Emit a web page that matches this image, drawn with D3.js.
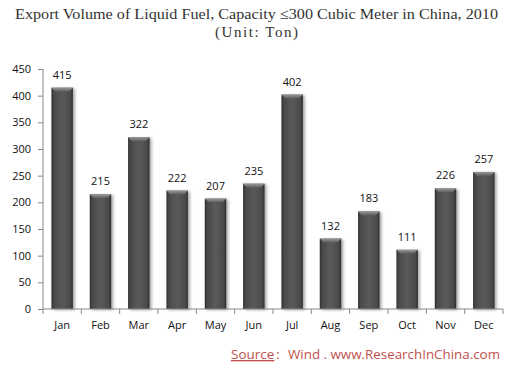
<!DOCTYPE html>
<html><head><meta charset="utf-8">
<script src="https://cdn.jsdelivr.net/npm/d3@7"></script>
<style>body{margin:0;background:#fff}svg{display:block}</style>
</head><body>
<script>
const months = ["Jan","Feb","Mar","Apr","May","Jun","Jul","Aug","Sep","Oct","Nov","Dec"];
const values = [415,215,322,222,207,235,402,132,183,111,226,257];
const yTicks = [0,50,100,150,200,250,300,350,400,450];
const titleLines = ["Export Volume of Liquid Fuel, Capacity \u2264300 Cubic Meter in China, 2010","(Unit: Ton)"];

const W=513,H=367;
const svg=d3.select("body").append("svg").attr("width",W).attr("height",H);
const x=d3.scaleBand().domain(months).range([43,503]).paddingInner(0.44).paddingOuter(0.22);
const y=d3.scaleLinear().domain([0,450]).range([309,69]);

const defs=svg.append("defs");
const g1=defs.append("linearGradient").attr("id","barg").attr("x1","0").attr("x2","1").attr("y1","0").attr("y2","0");
[["0%","#2e2e2e"],["12%","#4a4a4a"],["50%","#5a5a5a"],["88%","#4a4a4a"],["100%","#2e2e2e"]].forEach(s=>g1.append("stop").attr("offset",s[0]).attr("stop-color",s[1]));
const g2=defs.append("linearGradient").attr("id","capg").attr("x1","0").attr("x2","0").attr("y1","0").attr("y2","1");
[["0%","#9a9a9a"],["100%","#5a5a5a"]].forEach(s=>g2.append("stop").attr("offset",s[0]).attr("stop-color",s[1]));
const f=defs.append("filter").attr("id","sh").attr("x","-20%").attr("y","-10%").attr("width","150%").attr("height","130%");
f.append("feDropShadow").attr("dx",2).attr("dy",1).attr("stdDeviation",1.5).attr("flood-color","#000").attr("flood-opacity",0.35);

const tW=[483,83], tY=[19,37], tAdj=["spacingAndGlyphs","spacing"];
svg.append("g").attr("font-family","'Liberation Serif','DejaVu Serif',serif").attr("font-size",15).attr("fill","#333")
 .selectAll("text").data(titleLines).join("text")
 .attr("x",W/2).attr("y",(d,i)=>tY[i]).attr("text-anchor","middle")
 .attr("textLength",(d,i)=>tW[i]).attr("lengthAdjust",(d,i)=>tAdj[i]).text(d=>d);

// bars
const bars=svg.append("g");
bars.selectAll("rect.bar").data(values).join("rect").attr("class","bar")
 .attr("x",(d,i)=>x(months[i])).attr("y",d=>y(d)).attr("width",x.bandwidth()).attr("height",d=>y(0)-y(d))
 .attr("fill","url(#barg)").attr("filter","url(#sh)");
bars.selectAll("path.cap").data(values).join("path").attr("class","cap")
 .attr("d",(d,i)=>{const x0=x(months[i]),w=x.bandwidth(),t=y(d);return `M${x0},${t}L${x0+w},${t}L${x0+w-4},${t+4}L${x0+4},${t+4}Z`;})
 .attr("fill","url(#capg)");

// labels
svg.append("g").attr("font-family","'Open Sans','DejaVu Sans',sans-serif").attr("font-size",11).attr("fill","#111")
 .selectAll("text").data(values).join("text")
 .attr("x",(d,i)=>x(months[i])+x.bandwidth()/2).attr("y",d=>y(d)-9).attr("text-anchor","middle").text(d=>d);

// y axis
const ya=svg.append("g").attr("transform","translate(43,0)").call(d3.axisLeft(y).tickValues(yTicks).tickSize(5).tickPadding(7));
ya.selectAll("path,line").attr("stroke","#888");
ya.selectAll("text").attr("font-family","'Open Sans','DejaVu Sans',sans-serif").attr("font-size",11).attr("fill","#111");
ya.select(".domain").attr("d","M0,309V69");

// x axis
const xa=svg.append("g").attr("transform","translate(0,309)");
xa.append("line").attr("x1",43).attr("x2",503).attr("stroke","#888");
xa.selectAll("line.t").data(d3.range(months.length+1)).join("line").attr("class","t")
 .attr("x1",i=>43+i*(460/12)).attr("x2",i=>43+i*(460/12)).attr("y1",0).attr("y2",5).attr("stroke","#888");
xa.selectAll("text").data(months).join("text")
 .attr("x",d=>x(d)+x.bandwidth()/2).attr("y",20).attr("text-anchor","middle")
 .attr("font-family","'Open Sans','DejaVu Sans',sans-serif").attr("font-size",11).attr("fill","#111").text(d=>d);

// source
const srcG=svg.append("g").attr("font-family","'Open Sans','DejaVu Sans',sans-serif").attr("font-size",13.5).attr("fill","#c0504d");
srcG.append("text").attr("x",231).attr("y",359).attr("text-decoration","underline").text("Source");
srcG.append("text").attr("x",276).attr("y",359).text(":");
srcG.append("text").attr("x",288).attr("y",359).attr("textLength",212).attr("lengthAdjust","spacingAndGlyphs").text("Wind . www.ResearchInChina.com");
</script>
</body></html>
